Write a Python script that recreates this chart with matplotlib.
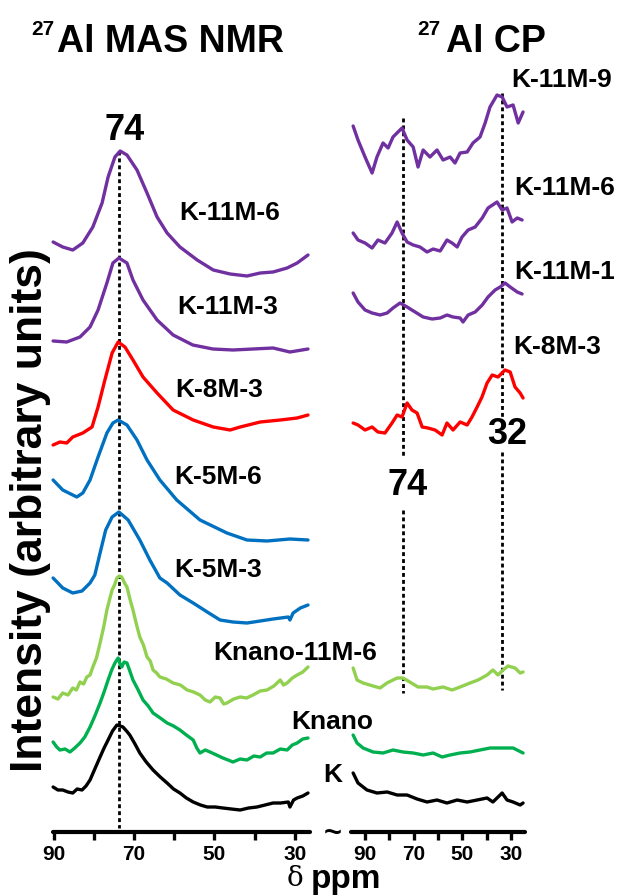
import matplotlib
matplotlib.use("Agg")
import matplotlib.pyplot as plt

plt.rcParams['font.family'] = ['Liberation Sans', 'DejaVu Sans']
plt.rcParams['font.weight'] = 'bold'

# ---------------- data ----------------
# 27Al MAS NMR (left panel): chemical shift (ppm) and intensity (arbitrary units)
mas_names = ["K-11M-6", "K-11M-3", "K-8M-3", "K-5M-6", "K-5M-3", "Knano-11M-6", "Knano", "K"]

mas_k11m6_ppm = [90.2, 87.8, 85.3, 82.8, 80.3, 78.0, 76.5, 74.8, 73.5, 71.8, 69.3, 66.8, 64.3, 61.8,
                 58.6, 54.3, 50.3, 46.1, 41.9, 38.6, 35.4, 31.9, 29.4, 26.7]
mas_k11m6_int = [34, 29, 26, 33, 49, 73, 99, 119, 125, 121, 106, 83, 59, 43, 29, 16, 6, 2, 0, 3, 4, 8, 13, 21]

mas_k11m3_ppm = [90.2, 86.8, 83.5, 81.0, 79.0, 76.8, 75.3, 73.8, 71.8, 70.3, 67.8, 64.3, 60.3, 55.4,
                 50.4, 45.4, 40.4, 35.4, 31.2, 26.7]
mas_k11m3_int = [12, 11, 16, 26, 43, 70, 90, 95, 90, 73, 53, 33, 18, 8, 4, 3, 4, 5, 1, 4]

mas_k8m3_ppm = [90.2, 88.5, 86.8, 85.3, 82.8, 80.5, 79.0, 77.3, 75.5, 74.0, 72.3, 70.3, 67.8, 64.3,
                60.3, 55.3, 50.3, 46.1, 43.6, 38.6, 33.6, 29.4, 26.7]
mas_k8m3_int = [0, 3, 2, 8, 12, 18, 38, 65, 92, 103, 98, 85, 68, 52, 35, 25, 18, 15, 18, 23, 25, 27, 30]

mas_k5m6_ppm = [90.2, 87.8, 84.3, 82.8, 81.0, 79.0, 76.8, 75.3, 74.0, 71.8, 69.3, 66.8, 63.6, 59.4,
                53.6, 46.9, 41.9, 36.9, 31.2, 26.7]
mas_k5m6_int = [61, 51, 44, 48, 61, 84, 108, 118, 121, 116, 101, 81, 61, 41, 21, 8, 1, 0, 2, 1]

mas_k5m3_ppm = [90.2, 87.8, 85.3, 83.0, 81.0, 79.8, 78.5, 77.1, 75.5, 73.8, 71.5, 68.6, 66.1, 63.6,
                61.8, 58.6, 55.3, 51.8, 48.6, 45.4, 41.9, 38.6, 35.4, 31.6, 31.2, 30.4, 28.6, 26.7]
mas_k5m3_int = [45, 35, 30, 32, 40, 48, 70, 93, 106, 111, 103, 83, 63, 45, 40, 28, 20, 11, 3, 1, 0, 2,
                4, 6, 3, 10, 15, 18]

mas_knano11m6_ppm = [90.2, 89.0, 87.8, 86.5, 85.3, 84.4, 83.5, 82.6, 81.8, 81.0, 80.3, 79.4, 78.5, 77.6,
                     76.8, 76.1, 75.5, 74.9, 74.3, 73.7, 73.1, 72.4, 71.8, 71.0, 70.3, 69.4, 68.6, 67.7,
                     66.8, 66.0, 65.3, 64.4, 63.6, 62.0, 60.3, 58.5, 56.8, 55.2, 53.6, 52.3, 51.1, 49.8,
                     48.6, 47.7, 46.9, 45.2, 43.6, 42.0, 40.4, 38.6, 36.9, 35.2, 33.6, 32.8, 31.9, 30.6,
                     29.4, 28.0, 26.7]
mas_knano11m6_int = [6, 4, 10, 8, 15, 13, 21, 19, 26, 28, 36, 45, 60, 76, 93, 104, 113, 118, 125, 127,
                     126, 120, 116, 103, 93, 78, 66, 58, 46, 42, 33, 30, 26, 24, 20, 18, 13, 11, 8, 3,
                     1, 6, 5, -1, 0, 4, 6, 5, 8, 12, 13, 17, 23, 18, 20, 25, 28, 31, 36]

mas_knano_ppm = [90.2, 89.3, 88.5, 87.2, 86.0, 84.8, 83.5, 82.3, 81.0, 79.8, 78.5, 77.5, 76.5, 75.6,
                 74.8, 74.0, 73.5, 73.1, 72.5, 71.8, 71.0, 70.3, 69.0, 67.8, 66.5, 65.3, 63.5, 61.8,
                 60.2, 58.6, 57.0, 55.3, 54.4, 53.6, 52.3, 51.1, 49.5, 47.9, 46.6, 45.4, 43.6, 41.9,
                 40.2, 38.6, 37.0, 35.4, 33.6, 31.9, 30.6, 29.4, 28.0, 26.7]
mas_knano_int = [20, 15, 12, 13, 10, 14, 19, 25, 35, 46, 59, 70, 82, 92, 99, 104, 98, 95, 100, 99, 90,
                 82, 72, 62, 56, 49, 44, 39, 36, 32, 27, 22, 14, 9, 12, 10, 7, 4, 2, 0, 3, 2, 6, 5, 9,
                 9, 13, 12, 17, 19, 23, 24]

mas_k_ppm = [90.2, 89.0, 87.8, 86.5, 85.3, 84.2, 83.0, 82.0, 81.0, 79.7, 78.5, 77.5, 76.5, 75.4, 74.3,
             73.5, 72.8, 71.9, 71.1, 69.8, 68.6, 67.0, 65.3, 63.5, 61.8, 60.2, 58.6, 57.0, 55.3, 53.5,
             51.8, 49.8, 47.9, 45.8, 43.6, 41.5, 39.4, 37.4, 35.4, 33.5, 31.6, 31.2, 30.3, 29.4, 28.0,
             26.7]
mas_k_int = [23, 20, 20, 18, 17, 21, 20, 24, 30, 42, 53, 62, 70, 79, 85, 84, 83, 79, 75, 66, 57, 48, 40,
             33, 27, 21, 17, 12, 8, 5, 3, 3, 2, 1, 0, 2, 3, 5, 7, 7, 8, 3, 10, 12, 14, 17]

# 27Al CP (right panel)
cp_names = ["K-11M-9", "K-11M-6", "K-11M-1", "K-8M-3", "Knano-11M-6", "Knano", "K"]

cp_k11m9_ppm = [94.9, 92.9, 90.0, 87.1, 85.1, 82.6, 80.5, 78.5, 74.8, 72.7, 70.2, 68.2, 66.1, 63.3, 60.4,
                57.9, 55.0, 53.0, 50.9, 48.0, 45.6, 42.7, 40.6, 38.6, 35.7, 33.6, 31.6, 29.1, 27.0, 25.0]
cp_k11m9_int = [49, 35, 18, 2, 18, 32, 27, 38, 47, 35, 28, 8, 25, 18, 25, 15, 18, 12, 22, 23, 32, 38, 52,
                68, 80, 78, 68, 70, 52, 63]

cp_k11m6_ppm = [94.9, 92.9, 90.0, 87.1, 84.7, 81.8, 78.9, 76.8, 74.8, 72.7, 70.2, 67.4, 64.5, 62.0, 59.1,
                56.3, 54.2, 52.1, 50.1, 47.6, 44.7, 41.8, 39.4, 35.7, 33.6, 31.6, 29.5, 27.4, 25.4]
cp_k11m6_int = [22, 15, 12, 7, 15, 12, 22, 33, 22, 13, 10, 8, 3, 6, 4, 15, 12, 8, 18, 25, 28, 37, 47, 53,
                45, 47, 33, 37, 35]

cp_k11m1_ppm = [94.9, 92.9, 90.0, 87.1, 83.8, 80.9, 78.5, 75.6, 72.7, 69.4, 66.1, 62.4, 59.1, 56.3, 53.8,
                50.9, 49.7, 47.6, 44.7, 41.8, 39.4, 36.5, 34.4, 32.4, 30.3, 27.4, 25.4]
cp_k11m1_int = [29, 20, 12, 9, 7, 9, 14, 19, 15, 10, 5, 3, 4, 7, 5, 4, 0, 7, 10, 17, 25, 32, 35, 39, 35,
                30, 28]

cp_k8m3_ppm = [94.9, 92.9, 90.0, 87.1, 84.7, 81.8, 78.9, 76.8, 74.8, 72.7, 70.7, 68.6, 66.5, 64.1, 61.2,
               58.3, 56.3, 53.8, 50.9, 48.0, 46.0, 43.9, 41.9, 39.8, 37.7, 35.3, 32.4, 30.3, 28.3, 26.2, 25.0]
cp_k8m3_int = [12, 10, 5, 8, 3, 2, 12, 20, 18, 32, 25, 22, 8, 7, 5, 0, 12, 5, 13, 10, 18, 28, 38, 52, 60,
               58, 65, 63, 48, 42, 37]

cp_knano11m6_ppm = [94.9, 93.3, 90.8, 86.7, 83.8, 81.0, 76.8, 74.4, 71.6, 68.2, 64.5, 62.0, 57.9, 54.2,
                    50.9, 46.8, 43.5, 39.8, 37.4, 35.3, 33.2, 31.2, 28.3, 26.2, 25.0]
cp_knano11m6_int = [22, 10, 7, 4, 2, 7, 12, 12, 8, 3, 3, 1, 3, 0, 3, 7, 10, 15, 20, 15, 20, 24, 22, 17, 18]

cp_knano_ppm = [94.9, 93.3, 90.8, 86.7, 82.6, 78.5, 74.4, 70.2, 66.1, 62.0, 58.3, 55.0, 50.9, 46.8, 42.7,
                38.6, 33.2, 29.1, 25.0]
cp_knano_int = [22, 14, 9, 5, 4, 7, 5, 4, 2, 4, 0, 2, 4, 5, 7, 9, 9, 9, 4]

cp_k_ppm = [94.9, 92.9, 89.2, 85.1, 80.9, 76.8, 72.7, 68.6, 64.5, 60.4, 56.3, 52.1, 48.0, 43.9, 39.8,
            37.4, 33.6, 31.6, 29.1, 26.2, 25.0]
cp_k_int = [32, 22, 15, 12, 13, 10, 10, 6, 3, 5, 2, 5, 3, 5, 7, 3, 12, 5, 3, 0, 2]

peak_mas = 73.7          # dashed marker, labelled "74"
peaks_cp = [74.4, 33.6]  # dashed markers, labelled "74" and "32"
major_ticks = [90, 70, 50, 30]
minor_ticks = [80, 60, 40]
tick_labels = ["90", "70", "50", "30"]

# ---------------- styling / layout ----------------
PURPLE, RED, BLUE = "#7030A0", "#FF0000", "#0070C0"
LGREEN, GREEN, BLACK = "#92D050", "#00B050", "#000000"

W, H = 622, 896
fig = plt.figure(figsize=(W / 100, H / 100), dpi=100)


def fx(x):
    return x / W


def fy(y):
    return 1 - y / H


AX_BOTTOM, AX_TOP = 832, 60
axL = fig.add_axes([fx(52.7), fy(AX_BOTTOM), (310 - 52.7) / W, (AX_BOTTOM - AX_TOP) / H])
axR = fig.add_axes([fx(350.7), fy(AX_BOTTOM), (525 - 350.7) / W, (AX_BOTTOM - AX_TOP) / H])
axL.set_xlim(90.3, 26.2)
axR.set_xlim(95.9, 24.2)

for ax in (axL, axR):
    ax.set_ylim(0, AX_BOTTOM - AX_TOP)
    for s in ("left", "right", "top"):
        ax.spines[s].set_visible(False)
    ax.spines["bottom"].set_linewidth(3.0)
    ax.spines["bottom"].set_capstyle("round")
    ax.set_yticks([])
    ax.set_xticks(major_ticks)
    ax.set_xticklabels(tick_labels)
    ax.set_xticks(minor_ticks, minor=True)
    ax.tick_params(axis="x", which="both", direction="out", length=6, width=2.4, pad=3.0,
                   labelsize=15)
    ax.patch.set_alpha(0)

# baselines (pixel rows) for the stacked spectra
mas_series = [
    (mas_k11m6_ppm, mas_k11m6_int, PURPLE, 276),
    (mas_k11m3_ppm, mas_k11m3_int, PURPLE, 353),
    (mas_k8m3_ppm, mas_k8m3_int, RED, 445),
    (mas_k5m6_ppm, mas_k5m6_int, BLUE, 541),
    (mas_k5m3_ppm, mas_k5m3_int, BLUE, 623),
    (mas_knano11m6_ppm, mas_knano11m6_int, LGREEN, 703),
    (mas_knano_ppm, mas_knano_int, GREEN, 762),
    (mas_k_ppm, mas_k_int, BLACK, 810),
]
cp_series = [
    (cp_k11m9_ppm, cp_k11m9_int, PURPLE, 175),
    (cp_k11m6_ppm, cp_k11m6_int, PURPLE, 255),
    (cp_k11m1_ppm, cp_k11m1_int, PURPLE, 322),
    (cp_k8m3_ppm, cp_k8m3_int, RED, 435),
    (cp_knano11m6_ppm, cp_knano11m6_int, LGREEN, 690),
    (cp_knano_ppm, cp_knano_int, GREEN, 757),
    (cp_k_ppm, cp_k_int, BLACK, 805),
]

for ax, series in ((axL, mas_series), (axR, cp_series)):
    for ppm, inten, col, base in series:
        off = AX_BOTTOM - base
        ax.plot(ppm, [v + off for v in inten], color=col, lw=2.4, solid_joinstyle="round",
                solid_capstyle="round", clip_on=False, zorder=3)

dash = dict(color="black", lw=2.0, linestyle=(0, (1.4, 1.1)), zorder=2, clip_on=False)
axL.plot([peak_mas, peak_mas], [AX_BOTTOM - 151, AX_BOTTOM - 828], **dash)
axR.plot([peaks_cp[0]] * 2, [AX_BOTTOM - 118, AX_BOTTOM - 458], **dash)
axR.plot([peaks_cp[0]] * 2, [AX_BOTTOM - 510, AX_BOTTOM - 693], **dash)
axR.plot([peaks_cp[1]] * 2, [AX_BOTTOM - 93, AX_BOTTOM - 418], **dash)
axR.plot([peaks_cp[1]] * 2, [AX_BOTTOM - 452, AX_BOTTOM - 690], **dash)

# ---------------- text ----------------
def ftext(x, y, s, size, **kw):
    kw.setdefault("ha", "center")
    kw.setdefault("va", "center")
    fig.text(fx(x), fy(y), s, fontsize=size, fontweight="bold", **kw)


# titles
ftext(57, 52, "Al MAS NMR", 27, ha="left", va="baseline")
ftext(31, 35, "27", 15, ha="left", va="baseline")
ftext(446, 52, "Al CP", 27, ha="left", va="baseline")
ftext(417, 35, "27", 15, ha="left", va="baseline")

# peak labels
ftext(125, 130, "74", 26)
ftext(408, 485, "74", 26)
ftext(507, 434, "32", 26)

# spectrum labels, left
for (x, y), name in zip([(230, 213), (228, 307), (219, 390), (218, 477), (218, 570),
                         (295, 653), (332, 722), (333, 775)], mas_names):
    ftext(x, y, name, 19)
# spectrum labels, right (the last three share the labels of the left panel)
for (x, y), name in zip([(562, 80), (565, 188), (565, 272), (557, 347)], cp_names[:4]):
    ftext(x, y, name, 19)

# axis break, axis titles
ftext(333, 834, "~", 22)
ftext(31, 510, "Intensity (arbitrary units)", 32, rotation=90)
fig.text(fx(295), fy(886), "δ", fontsize=20, fontweight="normal", family="DejaVu Serif",
         ha="center", va="baseline")
ftext(311, 888, "ppm", 24, ha="left", va="baseline")

fig.savefig("out.png", dpi=100)
